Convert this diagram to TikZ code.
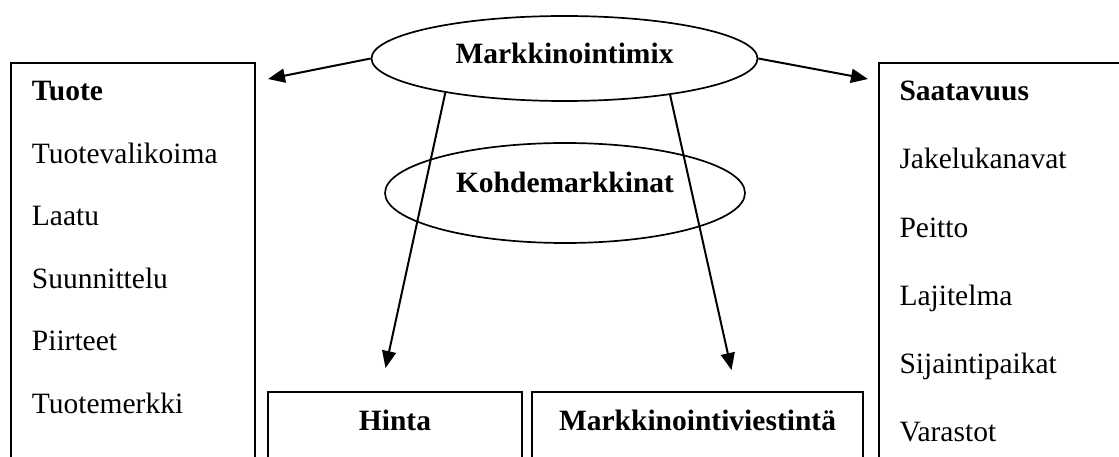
\documentclass[tikz,border=0pt]{standalone}
\usepackage{fontspec}
\setmainfont{Liberation Serif}
\usetikzlibrary{shapes.geometric,arrows.meta,positioning}
\newcommand{\diagfont}{\fontsize{29.5}{35}\selectfont}
\tikzset{
	listbox/.style={draw,rectangle,line width=2pt,inner sep=0pt,anchor=north west},
	mixbox/.style={listbox,anchor=north,font=\diagfont\bfseries,
		text height=38pt,text depth=51pt},
	oval/.style={draw,ellipse,line width=1.7pt,inner sep=0pt,font=\diagfont\bfseries},
	item/.style={anchor=base west,inner sep=0pt,font=\diagfont},
	head/.style={item,font=\diagfont\bfseries},
	arr/.style={line width=2pt,-{Triangle[length=17pt,width=14pt]}}
}

\begin{document}
\begin{tikzpicture}[x=1pt,y=-1pt]
\useasboundingbox (0,0) rectangle (1119,457);
\clip (0,0) rectangle (1119,457);

% side boxes
\node[listbox,minimum width=244.5pt,minimum height=420pt] (tuote) at (9.5,62) {};
\node[listbox,minimum width=260pt,minimum height=420pt] (saatavuus) at (878,62) {};

% bottom boxes
\node[mixbox,minimum width=254pt] (hinta) at (395,391) {Hinta};
\node[mixbox,minimum width=331pt] (viestinta) at (697.5,391) {Markkinointiviestintä};

% ellipses
\node[oval,minimum width=386pt,minimum height=85pt,text height=20pt,text depth=9pt] (mix) at (564.5,58.5) {Markkinointimix};
\node[oval,minimum width=360pt,minimum height=100pt,text height=15pt,text depth=15pt] (kohde) at (565,193) {Kohdemarkkinat};

% lists
\node[head] (tuotehead) at (31.7,100.7) {Tuote};
\foreach \t [count=\i] in {Tuotevalikoima,Laatu,Suunnittelu,Piirteet,Tuotemerkki}
	\node[item] (tuote\i) at (31.7,{100.7+62.5*\i}) {\t};

\node[head] (saatavuushead) at (899.3,100.7) {Saatavuus};
\foreach \t [count=\i] in {Jakelukanavat,Peitto,Lajitelma,Sijaintipaikat,Varastot}
	\node[item] (saatavuus\i) at (899.3,{100.7+68.2*\i}) {\t};

% arrows
\coordinate (tipT) at (268,79);
\coordinate (tipS) at (868,79);
\coordinate (tipH) at (385.5,368);
\coordinate (tipM) at (731.5,370);
\draw[arr] (mix.west) -- (tipT);
\draw[arr] (mix.east) -- (tipS);
\draw[arr] (mix.196.5) -- (tipH);
\draw[arr] (mix.341) -- (tipM);

\end{tikzpicture}
\end{document}
